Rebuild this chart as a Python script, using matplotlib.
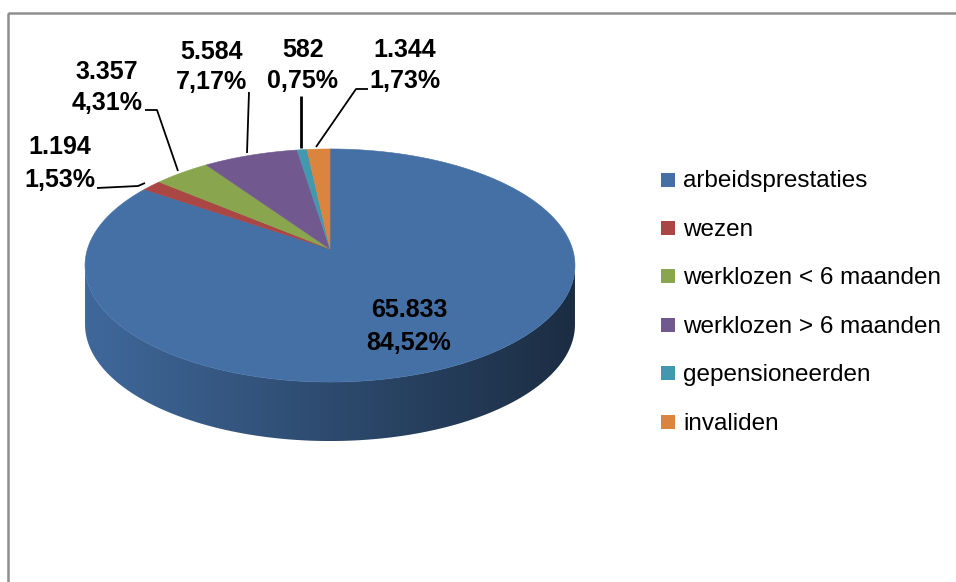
import matplotlib
matplotlib.use("Agg")
import matplotlib.pyplot as plt
import numpy as np
from matplotlib.patches import Polygon, Rectangle
from matplotlib.colors import to_rgb

# data
categories = ["arbeidsprestaties", "wezen", "werklozen < 6 maanden",
              "werklozen > 6 maanden", "gepensioneerden", "invaliden"]
values = [65833, 1194, 3357, 5584, 582, 1344]
value_labels = ["65.833", "1.194", "3.357", "5.584", "582", "1.344"]
pct_labels = ["84,52%", "1,53%", "4,31%", "7,17%", "0,75%", "1,73%"]
colors = ["#4470a6", "#aa4643", "#89a54e", "#71588f", "#4198af", "#db843d"]

# label layout (pixels): x, y of first line, y of second line
label_pos = [(409, 310, 343), (60, 147, 180), (107, 72, 103),
             (212, 52, 82), (303, 50, 81), (405, 50, 81)]
leaders = [None,
           [(97, 188), (138, 186), (145, 183)],
           [(145, 110), (157, 110), (178, 171)],
           [(249, 92), (247, 153)],
           [(301, 96), (301, 148)],
           [(368, 89), (356, 89), (316, 147)]]

# pie geometry (pixels), a bit of perspective
cx, cy0, a, b, k = 330.0, 249.0, 242.5, 114.2, 0.1416
depth = 59


def project(theta):
    x = np.sin(theta)
    z = -np.cos(theta)
    w = 1 - k * z
    return cx + a * x / w, cy0 + b * z / w


fig = plt.figure(figsize=(9.56, 5.82), dpi=100)
ax = fig.add_axes([0, 0, 1, 1])
ax.set_xlim(0, 956)
ax.set_ylim(582, 0)
ax.axis("off")

# chart frame
ax.add_patch(Rectangle((8, 12.5), 1000, 700, fill=False, ec="#8e8e8e", lw=1.8))

total = sum(values)
bounds = np.concatenate([[0], np.cumsum(values)]) / total * 2 * np.pi

# visible part of the rim (front)
t1 = np.arccos(-k)
t2 = 2 * np.pi - t1

for i in range(len(values)):
    s, e = max(bounds[i], t1), min(bounds[i + 1], t2)
    if e <= s:
        continue
    th = np.linspace(s, e, 300)
    xs, ys = project(th)
    px = np.concatenate([xs, xs[::-1]])
    py = np.concatenate([ys, ys[::-1] + depth])
    poly = Polygon(np.column_stack([px, py]), closed=True, fc="none", ec="none")
    ax.add_patch(poly)
    base = np.array(to_rgb(colors[i]))
    f = np.linspace(0.93, 0.40, 256)
    grad = np.clip(base[None, :] * f[:, None], 0, 1)[None, :, :]
    im = ax.imshow(grad, extent=(xs.min(), xs.max(), ys.max() + depth, ys.min()),
                   aspect="auto", interpolation="bilinear", zorder=1)
    im.set_clip_path(poly)

# top of the pie
for i in range(len(values)):
    th = np.linspace(bounds[i], bounds[i + 1], 400)
    xs, ys = project(th)
    pts = np.column_stack([np.concatenate([[cx], xs]), np.concatenate([[cy0], ys])])
    ax.add_patch(Polygon(pts, closed=True, fc=colors[i], ec=colors[i], lw=0.4, zorder=2))

# data labels
lab_font = dict(family="Liberation Sans", fontsize=18, fontweight="bold",
                color="black", ha="center", va="center", zorder=5)
for i in range(len(values)):
    x, y1, y2 = label_pos[i]
    ax.text(x, y1, value_labels[i], **lab_font)
    ax.text(x, y2, pct_labels[i], **lab_font)
    if leaders[i]:
        lx, ly = zip(*leaders[i])
        ax.plot(lx, ly, color="black", lw=2.0 if i == 4 else 1.3, zorder=4,
                solid_capstyle="butt")

# legend
for i, name in enumerate(categories):
    y = 179.5 + i * 48.4
    ax.add_patch(Rectangle((661, y - 7), 14, 14, fc=colors[i], ec="none"))
    ax.text(683, y + 2, name, family="Liberation Sans", fontsize=17.5,
            color="black", ha="left", va="center")

fig.savefig("out.png", dpi=100)
